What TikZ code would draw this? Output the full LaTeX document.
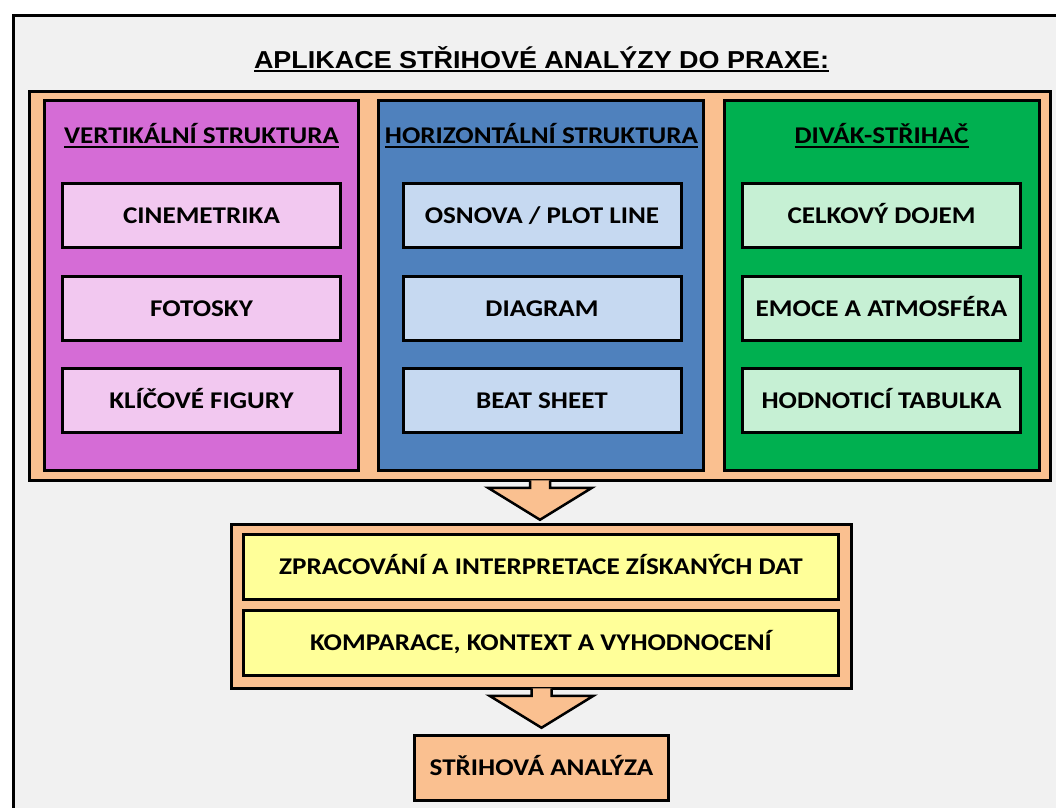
\documentclass[tikz,border=0pt]{standalone}
\usepackage{fontspec}
\setmainfont{Carlito}[FakeStretch=1.13]
\newfontfamily\titlefont{Liberation Sans}[FakeStretch=1.1]
\usetikzlibrary{calc}
\definecolor{pagegray}{HTML}{F1F1F1}
\definecolor{peach}{HTML}{FAC090}
\definecolor{purplepanel}{HTML}{D56CD6}
\definecolor{purplelight}{HTML}{F2C8F0}
\definecolor{bluepanel}{HTML}{4F81BD}
\definecolor{bluelight}{HTML}{C6D9F1}
\definecolor{greenpanel}{HTML}{00B050}
\definecolor{greenlight}{HTML}{C6F0D4}
\definecolor{yellowlight}{HTML}{FFFF99}
% underline with a given depth below the baseline
\newcommand{\ulined}[2]{\setbox0=\hbox{#2}\rlap{\rule[-#1]{\wd0}{2pt}}\box0}
\tikzset{
    framebox/.style={draw=black, line width=3pt, fill=pagegray},
    container/.style={draw=black, line width=2.5pt, fill=peach, inner sep=0pt},
    panel/.style={draw=black, line width=3pt, inner sep=0pt, minimum height=370},
    heading/.style={anchor=base, inner sep=0pt, font=\bfseries\fontsize{24}{28}\selectfont},
    item/.style={draw=black, line width=3pt, inner sep=0pt, minimum width=278, minimum height=64,
        text height=15.5pt, text depth=0pt, font=\bfseries\fontsize{24}{28}\selectfont},
    blockarrow/.style={draw=black, line width=2.5pt, fill=peach, line join=miter}
}
% block arrow from the bottom of one box downwards
\newcommand{\downshape}[1]{%
    \draw[blockarrow] let \p1=(#1.south) in
        (\x1-10pt,\y1+1.5pt) -- (\x1-10pt,\y1-6pt) -- (\x1-52pt,\y1-6pt) -- (\x1,\y1-38pt)
        -- (\x1+52pt,\y1-6pt) -- (\x1+10pt,\y1-6pt) -- (\x1+10pt,\y1+1.5pt);
}

\begin{document}
\begin{tikzpicture}[x=1pt, y=-1pt]
    \useasboundingbox (0,0) rectangle (1056,807);
    \clip (0,0) rectangle (1056,807);
    \fill[white] (0,0) rectangle (1056,807);
    \draw[framebox] (13.5,15.5) rectangle (1100,900);

    \node[anchor=base, inner sep=0pt, font=\titlefont\bfseries\fontsize{24.5}{28}\selectfont] (title) at (541.5,68)
        {\ulined{3.5pt}{APLIKACE STŘIHOVÉ ANALÝZY DO PRAXE:}};

    % three columns
    \node[container, minimum width=1021, minimum height=389] (top) at (540,286) {};
    \node[panel, fill=purplepanel, minimum width=314] (vert) at (201.5,285.5) {};
    \node[panel, fill=bluepanel, minimum width=325] (horiz) at (541,285.5) {};
    \node[panel, fill=greenpanel, minimum width=315] (viewer) at (882,285.5) {};

    \node[heading] (vertHead) at (201.5,143) {\ulined{4.5pt}{VERTIKÁLNÍ STRUKTURA}};
    \node[heading] (horizHead) at (541.5,143) {\ulined{4.5pt}{HORIZONTÁLNÍ STRUKTURA}};
    \node[heading] (viewerHead) at (881.5,143) {\ulined{4.5pt}{DIVÁK-STŘIHAČ}};

    \node[item, fill=purplelight] (cine) at (201.5,215.5) {CINEMETRIKA};
    \node[item, fill=purplelight] (photo) at (201.5,308.5) {FOTOSKY};
    \node[item, fill=purplelight] (figures) at (201.5,400.5) {KLÍČOVÉ FIGURY};

    \node[item, fill=bluelight] (plot) at (542,215.5) {OSNOVA / PLOT LINE};
    \node[item, fill=bluelight] (diagram) at (542,308.5) {DIAGRAM};
    \node[item, fill=bluelight] (beat) at (542,400.5) {BEAT SHEET};

    \node[item, fill=greenlight] (overall) at (881.5,215.5) {CELKOVÝ DOJEM};
    \node[item, fill=greenlight] (emotion) at (881.5,308.5) {EMOCE A ATMOSFÉRA};
    \node[item, fill=greenlight] (table) at (881.5,400.5) {HODNOTICÍ TABULKA};

    % processing
    \node[container, minimum width=620, minimum height=164] (mid) at (541.5,606.5) {};
    \node[item, fill=yellowlight, minimum width=595, minimum height=65] (process) at (541,567)
        {ZPRACOVÁNÍ A INTERPRETACE ZÍSKANÝCH DAT};
    \node[item, fill=yellowlight, minimum width=595, minimum height=65] (compare) at (541,643)
        {KOMPARACE, KONTEXT A VYHODNOCENÍ};

    \node[item, fill=peach, minimum width=254, minimum height=65] (result) at (541.5,768) {STŘIHOVÁ ANALÝZA};

    \downshape{top}
    \downshape{mid}
\end{tikzpicture}
\end{document}
